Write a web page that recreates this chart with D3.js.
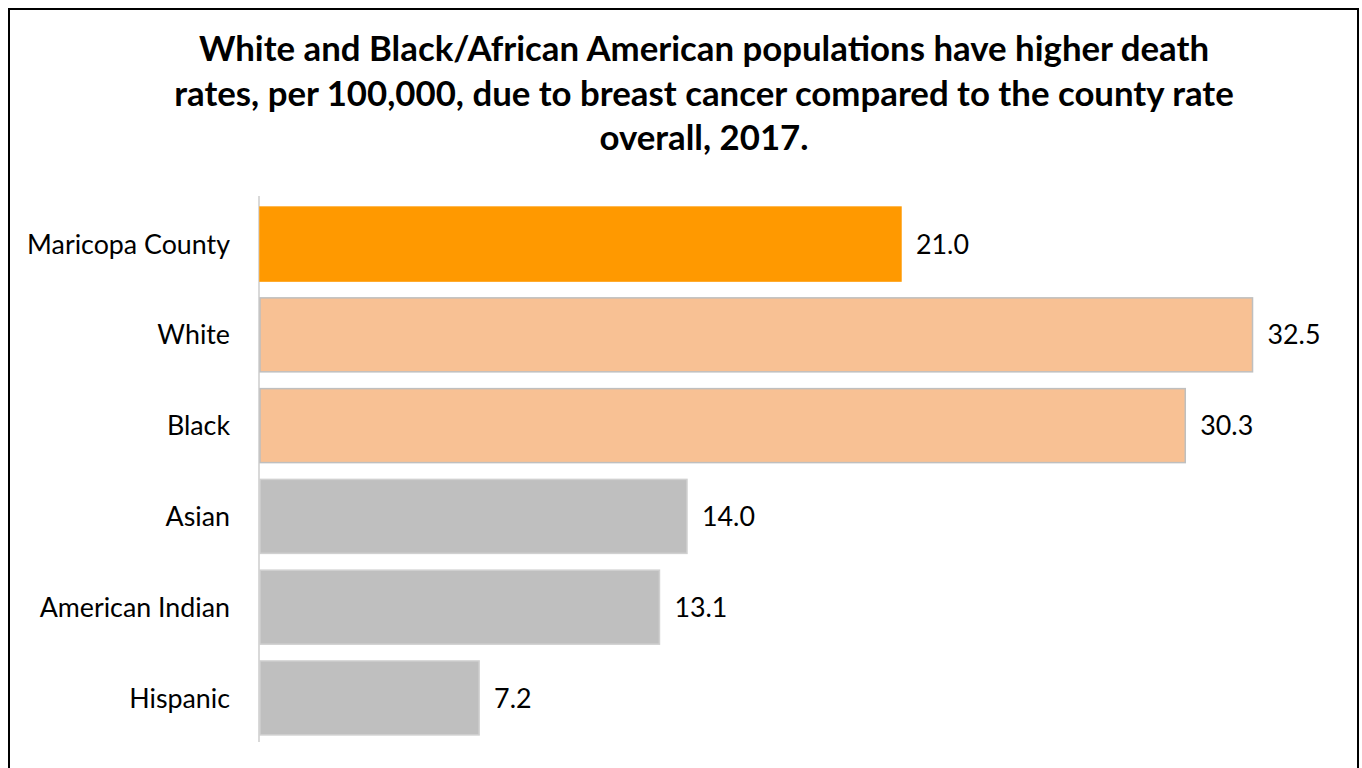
<!DOCTYPE html>
<html>
<head>
<meta charset="utf-8">
<script src="https://cdn.jsdelivr.net/npm/d3@7"></script>
<style>
  html, body { margin: 0; padding: 0; background: #fff; }
  svg { display: block; }
  text { font-family: Lato, "Open Sans", "Noto Sans", sans-serif; fill: #000; }
</style>
</head>
<body>
<svg id="chart" width="1362" height="768"></svg>
<script>
// ---- data ----
const categories = ["Maricopa County", "White", "Black", "Asian", "American Indian", "Hispanic"];
const values = [21.0, 32.5, 30.3, 14.0, 13.1, 7.2];
const barGroups = ["county", "higher", "higher", "other", "other", "other"];
const titleLines = [
  "White and Black/African American populations have higher death",
  "rates, per 100,000, due to breast cancer compared to the county rate",
  "overall, 2017."
];

// ---- layout ----
const svg = d3.select("#chart");

svg.append("rect")
  .attr("x", 9).attr("y", 9)
  .attr("width", 1349).attr("height", 780)
  .attr("fill", "#fff").attr("stroke", "#000").attr("stroke-width", 2);

const plotLeft = 259;
const x = d3.scaleLinear().domain([0, 1]).range([plotLeft, plotLeft + 30.57]);
const y = d3.scaleBand().domain(categories).range([198, 744]).paddingInner(0.185).paddingOuter(0.1);

const fillFor = { county: "#FF9900", higher: "#F8C194", other: "#BFBFBF" };
const strokeFor = { county: "#FF9900", higher: "#BFBFBF", other: "#D0D0D0" };

// title, fitted to the reference width
const tl = svg.append("g").selectAll("text").data(titleLines).join("text")
  .attr("x", 704)
  .attr("y", (d, i) => 61 + i * 44.5)
  .attr("text-anchor", "middle")
  .attr("font-weight", "bold")
  .attr("font-size", 30)
  .text(d => d);
const w2 = tl.nodes()[1].getComputedTextLength();
tl.attr("font-size", 30 * 1060 / w2);

// axis line
svg.append("line")
  .attr("x1", plotLeft).attr("x2", plotLeft)
  .attr("y1", 196).attr("y2", 742)
  .attr("stroke", "#D9D9D9").attr("stroke-width", 2);

// bars
svg.selectAll("rect.bar").data(categories).join("rect")
  .attr("class", "bar")
  .attr("x", plotLeft + 1)
  .attr("y", d => y(d))
  .attr("width", (d, i) => x(values[i]) - plotLeft - 1)
  .attr("height", y.bandwidth())
  .attr("fill", (d, i) => fillFor[barGroups[i]])
  .attr("stroke", (d, i) => strokeFor[barGroups[i]])
  .attr("stroke-width", 1.5);

// category labels
const cl = svg.selectAll("text.cat").data(categories).join("text")
  .attr("class", "cat")
  .attr("x", 230)
  .attr("y", d => y(d) + y.bandwidth() / 2)
  .attr("dy", "0.36em")
  .attr("text-anchor", "end")
  .attr("font-size", 22)
  .text(d => d);
const wc = cl.nodes()[0].getComputedTextLength();
cl.attr("font-size", 22 * 203 / wc);

// value labels
svg.selectAll("text.val").data(categories).join("text")
  .attr("class", "val")
  .attr("x", (d, i) => x(values[i]) + 15)
  .attr("y", d => y(d) + y.bandwidth() / 2)
  .attr("dy", "0.36em")
  .attr("font-size", 22 * 203 / wc)
  .text((d, i) => values[i].toFixed(1));
</script>
</body>
</html>
